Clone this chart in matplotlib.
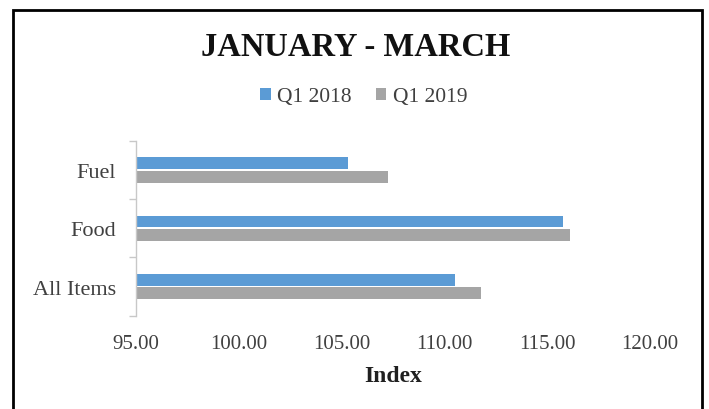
import matplotlib

matplotlib.use("Agg")
import matplotlib.pyplot as plt
import numpy as np
from matplotlib.patches import Rectangle

# Data
categories = ["All Items", "Food", "Fuel"]
q1_2018 = [110.53, 115.76, 105.29]
q1_2019 = [111.79, 116.09, 107.24]
series_names = ["Q1 2018", "Q1 2019"]
x_ticks = [95, 100, 105, 110, 115, 120]

blue = "#5B9BD5"
grey = "#A5A5A5"
text_col = "#404040"

plt.rcParams["font.family"] = ["Liberation Serif", "DejaVu Serif"]

fig = plt.figure(figsize=(7.09, 4.10), dpi=100)
ax = fig.add_axes([0.192, 0.2276, 0.725, 0.4264])

y = np.arange(len(categories))
h = 0.2
base = x_ticks[0]
ax.barh(y + 0.115, np.array(q1_2018) - base, left=base, height=h,
        color=blue, label=series_names[0])
ax.barh(y - 0.115, np.array(q1_2019) - base, left=base, height=h,
        color=grey, label=series_names[1])

ax.set_xlim(x_ticks[0], x_ticks[-1])
ax.set_ylim(-0.5, len(categories) - 0.5)
ax.set_xticks(x_ticks)
ax.set_xticklabels([f"{t:.2f}" for t in x_ticks], fontsize=15, color=text_col)
ax.set_yticks(y)
ax.set_yticklabels(categories, fontsize=16, color=text_col)
ax.set_yticks(np.arange(-0.5, len(categories)), minor=True)
ax.tick_params(axis="y", which="major", length=0, pad=14.5)
ax.tick_params(axis="y", which="minor", length=5, color="#C8C8C8", width=1)
ax.tick_params(axis="x", length=0, pad=13)

for s in ["top", "right", "bottom"]:
    ax.spines[s].set_visible(False)
ax.spines["left"].set_color("#C8C8C8")
ax.spines["left"].set_linewidth(1)

ax.set_xlabel("Index", fontsize=17, fontweight="bold", color="#202020", labelpad=9)

fig.text(0.501, 0.885, "JANUARY - MARCH", ha="center", va="center",
         fontsize=23.5, fontweight="bold", color="#111111")

handles, labels = ax.get_legend_handles_labels()
fig.legend(handles, labels, loc="center", bbox_to_anchor=(0.513, 0.761), ncol=2,
           frameon=False, fontsize=15.5, handlelength=0.5, handleheight=0.5,
           handletextpad=0.3, columnspacing=1.1, labelcolor=text_col)

# outer chart frame
fig.patches.append(Rectangle((13 / 709, -0.1), (702 - 13) / 709, 1.1 - 11 / 410,
                             transform=fig.transFigure, fill=False,
                             edgecolor="black", linewidth=2))

fig.savefig("out.png", dpi=100)
plt.close(fig)
